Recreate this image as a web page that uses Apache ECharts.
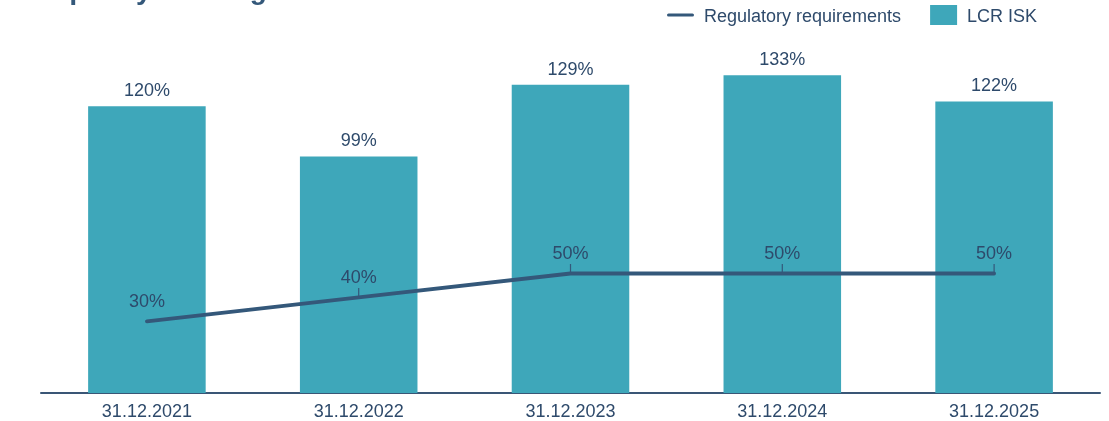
<!DOCTYPE html>
<html><head><meta charset="utf-8">
<script src="https://cdn.jsdelivr.net/npm/echarts@6/dist/echarts.min.js"></script>
<style>html,body{margin:0;padding:0;background:#fff}#c{width:1109px;height:421px}</style>
</head><body><div id="c"></div>
<script>
var categories = ['31.12.2021','31.12.2022','31.12.2023','31.12.2024','31.12.2025'];
var lcrIsk = [120, 99, 129, 133, 122];
var regulatory = [30, 40, 50, 50, 50];
var titleText = 'Liquidity coverage ratio';

var textColor = '#2e4a6b';
var lineColor = '#34587a';
var chart = echarts.init(document.getElementById('c'));
chart.setOption({
  animation: false,
  textStyle: {fontFamily: 'Liberation Sans, Arial, sans-serif'},
  title: {text: titleText, left: 30, top: -28,
    textStyle: {fontFamily: 'Liberation Sans, Arial, sans-serif', fontSize: 28, fontWeight: 'bold', color: lineColor}},
  legend: {
    top: 0, left: 662, itemWidth: 27, itemHeight: 20, itemGap: 29,
    formatter: '{t|{name}}',
    textStyle: {fontSize: 18, color: textColor, padding: [0,0,0,5],
      rich: {t: {fontSize: 18, color: textColor, padding: [5, 0, 0, 0]}}},
    data: [
      {name: 'Regulatory requirements', icon: 'path://M2,8.5 L25,8.5 A1.5,1.5 0 0 1 25,11.5 L2,11.5 A1.5,1.5 0 0 1 2,8.5 Z'},
      {name: 'LCR ISK', icon: 'rect'}
    ]
  },
  grid: {left: 41, right: 9, top: 34.5, bottom: 28, containLabel: false},
  xAxis: {
    type: 'category', data: categories,
    axisLine: {lineStyle: {color: '#3a5676', width: 2}},
    axisTick: {show: false},
    axisLabel: {fontSize: 18, color: textColor, margin: 10}
  },
  yAxis: {type: 'value', min: 0, max: 150, show: false, splitLine: {show: false}},
  series: [
    {
      name: 'LCR ISK', type: 'bar', data: lcrIsk, barWidth: '55.5%',
      itemStyle: {color: '#3ea7ba'},
      label: {show: true, position: 'top', distance: 6, fontSize: 18, color: textColor, formatter: '{c}%'},
      z: 2
    },
    {
      name: 'Regulatory requirements', type: 'line',
      data: regulatory.map(function (v, i) { return i === 0 ? {value: v, itemStyle: {color: 'rgba(0,0,0,0)', borderWidth: 0}} : v; }),
      lineStyle: {color: lineColor, width: 3.8, cap: 'round'},
      itemStyle: {color: lineColor, borderWidth: 0},
      symbol: 'rect',
      symbolSize: [1.2, 9],
      symbolOffset: [0, -5],
      showSymbol: true,
      label: {show: true, position: 'top', distance: 1, fontSize: 18, color: textColor, formatter: '{c}%'},
      z: 3
    }
  ]
});
</script></body></html>
